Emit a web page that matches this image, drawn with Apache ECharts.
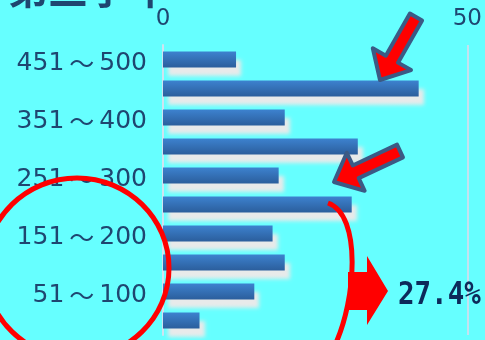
<!DOCTYPE html>
<html><head><meta charset="utf-8">
<script src="https://cdn.jsdelivr.net/npm/echarts@6/dist/echarts.min.js"></script>
<style>html,body{margin:0;padding:0;background:#66FFFF}#c{width:485px;height:340px}</style>
</head><body><div id="c"></div>
<script>
var categories = ['451～500','401～450','351～400','301～350','251～300','201～250','151～200','101～150','51～100','1～50'];
var counts = [12, 42, 20, 32, 19, 31, 18, 20, 15, 6];
var xTicks = [0, 50];
var titleText = '第三学年';
var noteText = '27.4%';

function arrow(tail, tip, sh, hh, hl) {
  var dx = tip[0]-tail[0], dy = tip[1]-tail[1], L = Math.sqrt(dx*dx+dy*dy);
  var ux = dx/L, uy = dy/L, nx = -uy, ny = ux;
  var bx = tip[0]-ux*hl, by = tip[1]-uy*hl;
  return [[tail[0]+nx*sh, tail[1]+ny*sh],[bx+nx*sh, by+ny*sh],[bx+nx*hh, by+ny*hh],tip,
          [bx-nx*hh, by-ny*hh],[bx-nx*sh, by-ny*sh],[tail[0]-nx*sh, tail[1]-ny*sh]];
}

var chart = echarts.init(document.getElementById('c'));
chart.setOption({
  backgroundColor: '#66FFFF',
  animation: false,
  grid: {left: 163, right: 16, top: 45, bottom: 5},
  xAxis: {
    type: 'value', position: 'top', min: xTicks[0], max: xTicks[1], interval: 50,
    axisLine: {show: false}, axisTick: {show: false},
    axisLabel: {color: '#1f4670', fontSize: 23, fontFamily: 'DejaVu Sans', margin: 14},
    splitLine: {show: true, lineStyle: {color: '#c4e2f0', width: 2}}
  },
  yAxis: {
    type: 'category', data: categories, inverse: true,
    axisLine: {show: true, lineStyle: {color: '#cfe3f0', width: 2}},
    axisTick: {show: false},
    axisLabel: {
      interval: 1, color: '#1f4670', margin: 16, padding: [7,0,0,0],
      formatter: function (v) { var p = v.split('～'); return '{d|' + p[0] + '}{t|～}{d|' + p[1] + '}'; },
      rich: {
        d: {fontSize: 25, fontFamily: 'DejaVu Sans', color: '#1f4670'},
        t: {fontSize: 25, fontFamily: '"Noto Sans CJK JP"', color: '#1f4670', padding: [0,5,0,5]}
      }
    }
  },
  series: [{
    type: 'bar', data: counts, barWidth: 16,
    itemStyle: {
      color: new echarts.graphic.LinearGradient(0,0,0,1,[{offset:0,color:'#3d82cf'},{offset:1,color:'#2b5e9c'}]),
      shadowColor: 'rgba(232,234,234,1)', shadowBlur: 4, shadowOffsetX: 5, shadowOffsetY: 8
    }
  }],
  graphic: [
    {type: 'text', x: 8, y: -31, z: 10, style: {text: titleText, fill: '#1f4670', font: 'bold 40px "Noto Sans CJK JP"'}},
    {type: 'ellipse', z: 20, shape: {cx: 77, cy: 268, rx: 92, ry: 90}, style: {fill: 'none', stroke: '#ff0000', lineWidth: 5}},
    {type: 'bezierCurve', z: 20, shape: {x1: 328, y1: 203, cpx1: 362, cpy1: 215, cpx2: 356, cpy2: 300, x2: 335, y2: 345}, style: {fill: 'none', stroke: '#ff0000', lineWidth: 5}},
    {type: 'polygon', z: 21, shape: {points: [[348,272],[367,272],[367,256],[388,291],[367,325],[367,310],[348,310]]}, style: {fill: '#ff0000'}},
    {type: 'text', z: 21, x: 398, y: 296, scaleY: 1.14, originY: 0, style: {text: noteText, fill: '#0d2a5a', font: 'bold 27.5px "DejaVu Sans Mono"', verticalAlign: 'middle'}},
    {type: 'polygon', z: 22, shape: {points: arrow([416,17],[380,80],7,22,24)}, style: {fill: '#ff0000', stroke: '#3b5a85', lineWidth: 4, lineJoin: 'round'}},
    {type: 'polygon', z: 22, shape: {points: arrow([400,151],[334,182],7,21,24)}, style: {fill: '#ff0000', stroke: '#3b5a85', lineWidth: 4, lineJoin: 'round'}}
  ]
});
</script></body></html>
